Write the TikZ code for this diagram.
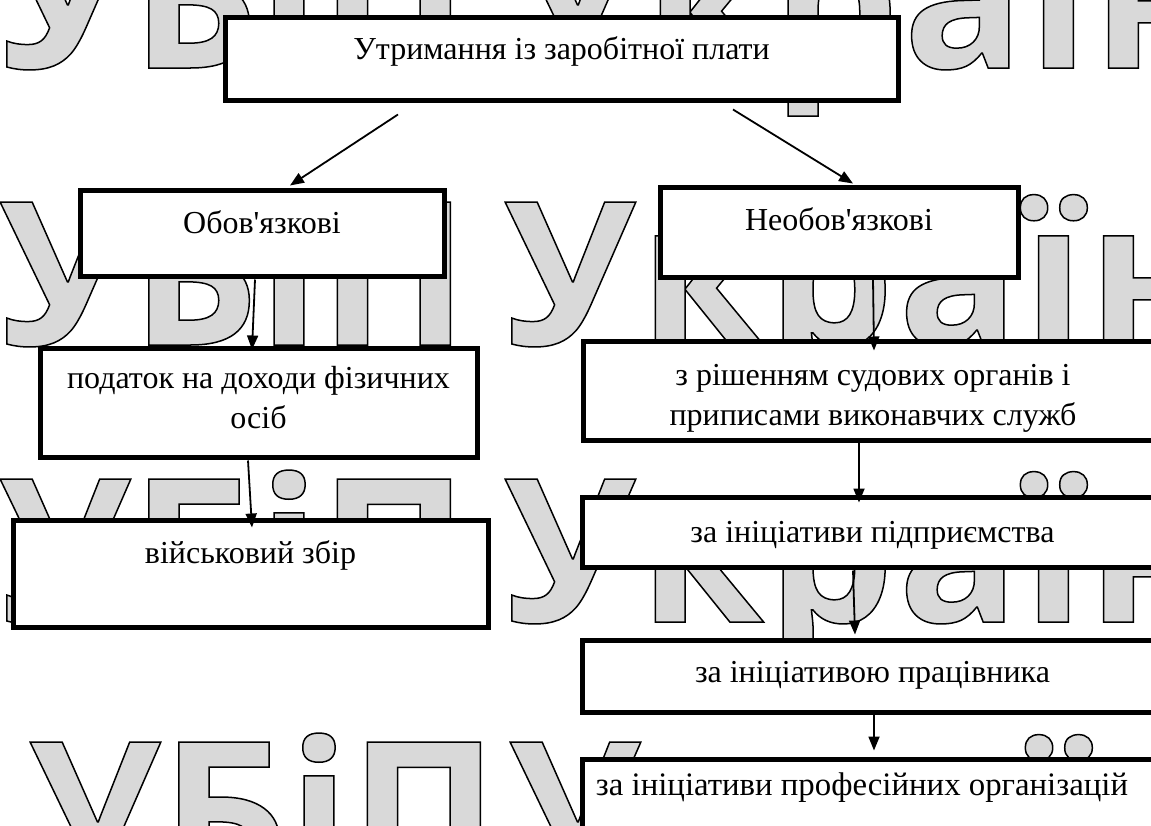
\documentclass[tikz,border=0pt]{standalone}
\usepackage{fontspec}
\setmainfont{Liberation Serif}[Ligatures=TeXOff]
\newfontfamily\wmfont{Open Sans}
\usetikzlibrary{arrows.meta,calc}
\definecolor{wmgray}{RGB}{217,217,217}
\newcommand{\wmtext}[2]{{\color{wmgray}\special{pdf:literal direct 0 G 2 Tr 1.5 w}УБіП\hspace{#1} {\addfontfeature{LetterSpace=#2}України}\special{pdf:literal direct 0 Tr}}}
\begin{document}
\begin{tikzpicture}[x=1pt,y=-1pt,
  box/.style={draw=black, line width=5pt, fill=white, inner sep=0pt},
  lbl/.style={anchor=base, inner sep=0pt, font=\fontsize{32}{40}\selectfont, align=center},
  arr/.style={line width=1.8pt, -{Triangle[length=14pt,width=11pt]}},
  wm/.style={anchor=base west, inner sep=0pt, font=\wmfont\bfseries\fontsize{200}{200}\selectfont}]
\useasboundingbox (0,0) rectangle (1151,825);
\clip (0,0) rectangle (1151,825);
\fill[white] (0,0) rectangle (1151,825);
% watermark
\node[wm] (wmA) at (0,68) {\wmtext{-10pt}{2}};
\node[wm] (wmB) at (0,345) {\wmtext{-15pt}{2}};
\node[wm] (wmC) at (0,622) {\wmtext{-15pt}{2}};
\node[wm] (wmD) at (30,885) {\wmtext{-40pt}{2}};
% boxes
\node[box, minimum width=673pt, minimum height=83pt] (top) at (561.5,58.5) {};
\node[box, minimum width=364pt, minimum height=86pt] (obov) at (262,233) {};
\node[box, minimum width=358pt, minimum height=90pt] (neobov) at (839,232) {};
\node[box, minimum width=437pt, minimum height=109pt] (podatok) at (258.5,402.5) {};
\node[box, minimum width=580pt, minimum height=99pt] (rish) at (873,390.5) {};
\node[box, minimum width=475pt, minimum height=107pt] (viysk) at (250.5,573.5) {};
\node[box, minimum width=581pt, minimum height=70pt] (pidpr) at (872.5,532) {};
\node[box, minimum width=581pt, minimum height=72pt] (prats) at (872.5,676) {};
\node[box, minimum width=581pt, minimum height=91pt] (prof) at (872.5,804.5) {};
% labels
\node[lbl] (ttop) at (561.5,59) {Утримання із заробітної плати};
\node[lbl] (tobov) at (262,233) {Обов'язкові};
\node[lbl] (tneobov) at (839,230) {Необов'язкові};
\node[lbl] (tpodatok) at (258.5,428) {податок на доходи фізичних\\осіб};
\node[lbl] (trish) at (873,425) {з рішенням судових органів і\\приписами виконавчих служб};
\node[lbl] (tviysk) at (250.5,563) {військовий збір};
\node[lbl] (tpidpr) at (872.5,542) {за ініціативи підприємства};
\node[lbl] (tprats) at (872.5,682) {за ініціативою працівника};
\node[lbl, font=\fontsize{32.8}{40}\selectfont] (tprof) at (862,795) {за ініціативи професійних організацій};
% connectors
\draw[arr] ($(top.south)+(-163.5,12)$) -- ($(obov.north)+(28,-2)$);
\draw[arr] ($(top.south)+(171.5,7)$) -- ($(neobov.north)+(14,-1)$);
\draw[arr] ($(obov.south)+(-7,1)$) -- ($(podatok.north)+(-6.5,4)$);
\draw[arr] ($(podatok.south)+(-10.5,1)$) -- ($(viysk.north)+(1.5,10)$);
\draw[arr] ($(neobov.south)+(34,0)$) -- ($(rish.north)+(1,12)$);
\draw[arr] ($(rish.south)+(-14,0)$) -- ($(pidpr.north)+(-13.5,8)$);
\draw[arr] ($(pidpr.south)+(-19.5,1)$) -- ($(prats.north)+(-17.5,-3)$);
\draw[arr] ($(prats.south)+(1.5,0)$) -- ($(prof.north)+(1.5,-6)$);
\end{tikzpicture}
\end{document}
